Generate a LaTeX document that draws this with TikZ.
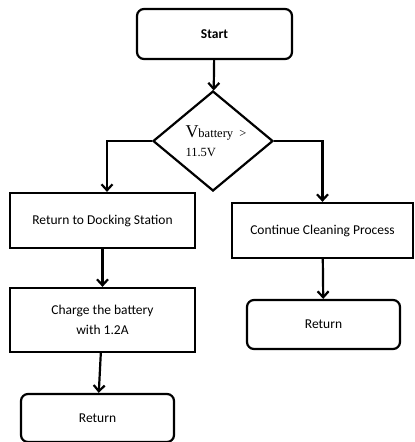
\documentclass[tikz,border=0pt]{standalone}
\usepackage{fontspec}
\setmainfont{Carlito}
\newfontfamily\timesfont{Liberation Serif}
\usetikzlibrary{shapes.geometric,arrows.meta}
\begin{document}
\begin{tikzpicture}[x=1pt,y=-1pt]
    \useasboundingbox (0,0) rectangle (415,442);
    \begin{scope}
        \tikzstyle{every node}=[fill=white, draw=black, line width=2.2pt, text=black, align=center, inner sep=2pt, font=\fontsize{13.5}{20}\selectfont]
        \tikzstyle{roundbox}=[rectangle, rounded corners=7pt]
        \tikzstyle{plainbox}=[rectangle]
        \node[roundbox, minimum width=155pt, minimum height=50pt, font=\fontsize{13.5}{16}\selectfont\bfseries] (start) at (214.5,34) {Start};
        \node[diamond, minimum width=120pt, minimum height=100pt, inner sep=0pt, align=left] (check) at (213,141)
            {\hspace*{6pt}\timesfont{\fontsize{18}{19}\selectfont V}{\fontsize{12.5}{19}\selectfont battery\ \ >}\\[-1pt]
             \hspace*{6pt}\timesfont\fontsize{12.5}{15}\selectfont 11.5V};
        \node[plainbox, minimum width=185pt, minimum height=55pt] (dock) at (102.5,220.5) {Return to Docking Station};
        \node[plainbox, minimum width=185pt, minimum height=64pt] (charge) at (102.5,320) {Charge the battery\\with 1.2A};
        \node[roundbox, minimum width=153pt, minimum height=48pt] (retleft) at (97.5,418) {Return};
        \node[plainbox, minimum width=181pt, minimum height=55pt] (cont) at (322.5,230.5) {Continue Cleaning Process};
        \node[roundbox, minimum width=153pt, minimum height=49pt] (retright) at (323.5,324.5) {Return};
    \end{scope}
    \begin{scope}[>={Straight Barb[length=6pt,width=11pt]}]
        \tikzstyle{every edge}=[draw, line width=2.2pt, ->]
        \path
        (start) edge[] (check)
        (dock) edge[] (charge)
        (charge) edge[] (retleft)
        (cont) edge[] (retright)
        ;
        \draw[line width=2.2pt, ->] (check.west) -| ([xshift=4.5pt]dock.north);
        \draw[line width=2.2pt, ->] (check.east) -| (cont.north);
    \end{scope}
\end{tikzpicture}
\end{document}
